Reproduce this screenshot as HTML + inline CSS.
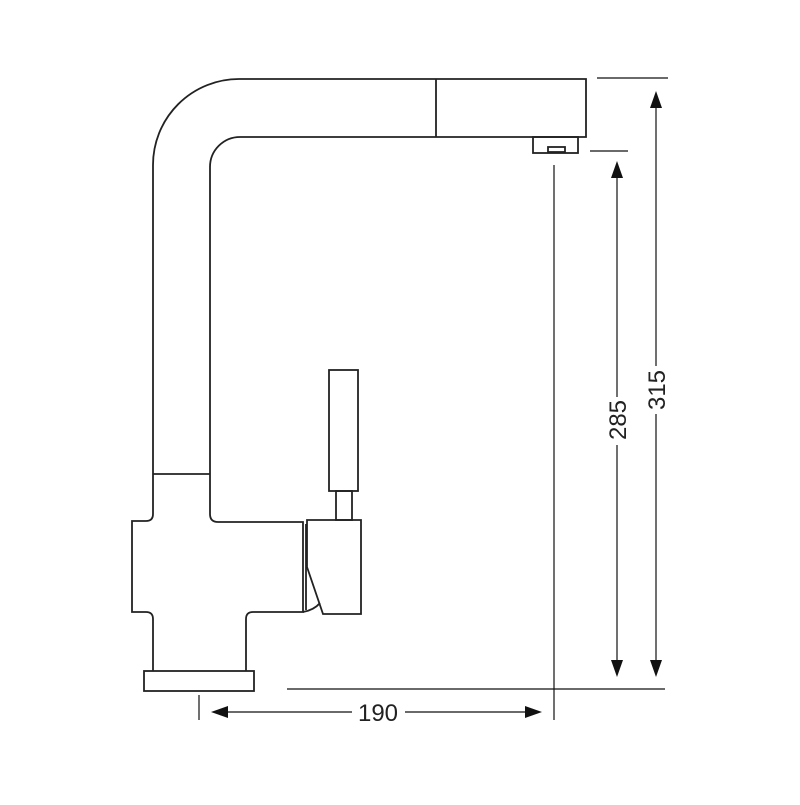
<!DOCTYPE html>
<html><head><style>body{margin:0;background:#fff}</style></head><body>
<svg width="800" height="800" viewBox="0 0 800 800" xmlns="http://www.w3.org/2000/svg">
<g fill="none" stroke="#222" stroke-width="1.8">
<path d="M153,474 L153,165 A86,86 0 0 1 239,79 L586,79 L586,137 L240,137 A30,30 0 0 0 210,167 L210,474"/>
<line x1="153" y1="474" x2="210" y2="474"/>
<line x1="436" y1="79" x2="436" y2="137"/>
<rect x="533" y="137" width="45" height="16"/>
<rect x="548" y="147" width="17" height="5"/>
<path d="M153,474 L153,514 Q153,521 146,521 L132,521 L132,612 L146,612 Q153,612 153,619 L153,671"/>
<path d="M210,474 L210,514 Q210,522 218,522 L303,522 L303,612 L253,612 Q246,612 246,619 L246,671"/>
<rect x="144" y="671" width="110" height="20"/>
<line x1="306" y1="524" x2="306" y2="610"/>
<path d="M303,612 Q314,610 320,603"/>
<path d="M307,520 L361,520 L361,614 L323,614 L307,567 Z"/>
<rect x="336" y="491" width="16" height="29"/>
<rect x="329" y="370" width="29" height="121"/>
</g>
<g stroke="#111" stroke-width="1.2" fill="none">
<line x1="597" y1="78" x2="668" y2="78"/>
<line x1="590" y1="151" x2="628" y2="151"/>
<line x1="287" y1="689" x2="665" y2="689"/>
<line x1="656" y1="108" x2="656" y2="366"/>
<line x1="656" y1="414" x2="656" y2="662"/>
<line x1="617" y1="178" x2="617" y2="397"/>
<line x1="617" y1="445" x2="617" y2="662"/>
<line x1="554" y1="165" x2="554" y2="720"/>
<line x1="199" y1="695" x2="199" y2="720"/>
<line x1="228" y1="712" x2="352" y2="712"/>
<line x1="405" y1="712" x2="526" y2="712"/>
</g>
<g fill="#111">
<polygon points="656,91 650,108 662,108"/>
<polygon points="656,677 650,660 662,660"/>
<polygon points="617,161 611,178 623,178"/>
<polygon points="617,677 611,660 623,660"/>
<polygon points="211,712 228,706 228,718"/>
<polygon points="542,712 525,706 525,718"/>
</g>
<g font-family="Liberation Sans, sans-serif" font-size="24" fill="#222" text-anchor="middle">
<text x="378" y="721">190</text>
<text transform="translate(665,390) rotate(-90)">315</text>
<text transform="translate(626,420) rotate(-90)">285</text>
</g>
</svg>
</body></html>
